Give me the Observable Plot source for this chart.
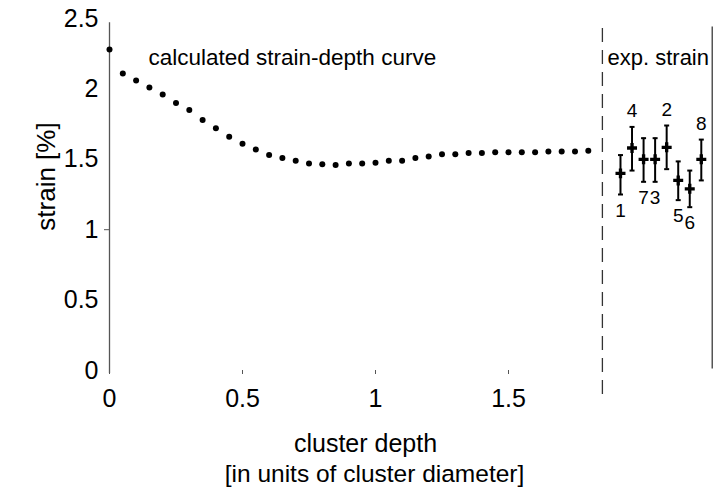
<!DOCTYPE html>
<html><head><meta charset="utf-8">
<script src="https://cdn.jsdelivr.net/npm/d3@7"></script>
<script src="https://cdn.jsdelivr.net/npm/@observablehq/plot@0.6"></script>
<style>
html,body{margin:0;padding:0;background:#fff;}
#chart svg{display:block;}
</style></head><body><div id="chart"></div>
<script>
// calculated strain-depth curve
const depth = [0,0.05,0.10,0.15,0.20,0.25,0.30,0.35,0.40,0.45,0.50,0.55,0.60,0.65,0.70,0.75,0.80,0.85,0.90,0.95,1.00,1.05,1.10,1.15,1.20,1.25,1.30,1.35,1.40,1.45,1.50,1.55,1.60,1.65,1.70,1.75,1.80];
const calcStrain = [2.28,2.11,2.06,2.01,1.96,1.90,1.85,1.78,1.72,1.66,1.61,1.57,1.53,1.51,1.49,1.47,1.465,1.46,1.47,1.47,1.475,1.49,1.49,1.51,1.52,1.535,1.535,1.545,1.545,1.55,1.55,1.55,1.55,1.555,1.555,1.555,1.56];
// experimental strain (samples in plotted order)
const sampleLabels = ["1","4","7","3","2","5","6","8"];
const sampleStrain = [1.40,1.58,1.50,1.50,1.585,1.35,1.29,1.50];
const sampleLow    = [1.25,1.42,1.34,1.34,1.43,1.21,1.16,1.35];
const sampleHigh   = [1.53,1.73,1.65,1.65,1.74,1.485,1.42,1.64];
const labelSide    = ["below","above","below","below","above","below","below","above"];
const xTicks = [0,0.5,1,1.5];
const yTicks = [0,0.5,1,1.5,2,2.5];

const W = 713, H = 491;
const mL = 109, mR = 1, mT = 18, mB = 121;
const xMax = (W - mR - mL) / 266;      // extent of the horizontal scale
const sepX = 1.853;                     // dashed separator
const expStart = 1.921, expStep = 0.0434;

const curve = depth.map((d, i) => ({depth: d, strain: calcStrain[i]}));
const samples = sampleLabels.map((s, i) => ({
  label: s, pos: expStart + i * expStep,
  strain: sampleStrain[i], low: sampleLow[i], high: sampleHigh[i], side: labelSide[i]
}));

const capSymbol = {draw(ctx, size) { const w = 2.5; ctx.moveTo(-w, 0); ctx.lineTo(w, 0); }};

const font = "'Liberation Sans', Arial, Helvetica, sans-serif";

const chart = Plot.plot({
  width: W, height: H,
  marginLeft: mL, marginRight: mR, marginTop: mT, marginBottom: mB,
  x: {domain: [0, xMax]},
  y: {domain: [0, 2.5]},
  style: {fontFamily: font, color: "#000", background: "#fff", overflow: "visible"},
  marks: [
    // axes
    Plot.ruleX([0], {y1: -0.022, y2: 2.47, stroke: "#555", strokeWidth: 1.3}),
    Plot.ruleX([sepX], {y1: -0.17, y2: 2.47, stroke: "#333", strokeWidth: 1.3, strokeDasharray: "14,8"}),
    Plot.ruleX([xMax], {y1: 0.01, y2: 2.44, stroke: "#555", strokeWidth: 2}),
    Plot.axisX({ticks: xTicks, tickSize: 4, tickPadding: 15, fontSize: 25, label: null, stroke: "#555", tickFormat: d => String(d)}),
    Plot.axisY({ticks: yTicks, tickSize: 0, tickPadding: 11, fontSize: 25, label: null, tickFormat: d => String(d)}),
    Plot.axisY({ticks: [1], tickSize: 5, label: null, stroke: "#555", tickFormat: () => ""}),
    // calculated curve
    Plot.dot(curve, {x: "depth", y: "strain", r: 3, fill: "#000", stroke: "none"}),
    // experimental strain
    Plot.ruleX(samples, {x: "pos", y1: "low", y2: "high", stroke: "#000", strokeWidth: 2}),
    Plot.dot(samples, {x: "pos", y: "low", symbol: capSymbol, r: 2, stroke: "#000", strokeWidth: 2}),
    Plot.dot(samples, {x: "pos", y: "high", symbol: capSymbol, r: 2, stroke: "#000", strokeWidth: 2}),
    Plot.dot(samples, {x: "pos", y: "strain", symbol: "cross", r: 4.2, fill: "#000", stroke: "none"}),
    Plot.text(samples.filter(d => d.side === "above"), {x: "pos", y: "high", text: "label", dy: -16, fontSize: 19, fill: "#000"}),
    Plot.text(samples.filter(d => d.side === "below"), {x: "pos", y: "low", text: "label", dy: 16, fontSize: 19, fill: "#000"}),
    // annotations
    Plot.text(["calculated strain-depth curve"], {frameAnchor: "top-left", dx: 39, dy: 31, text: d => d, textAnchor: "start", fontSize: 22.5, fill: "#000"}),
    Plot.text(["exp. strain"], {frameAnchor: "top-left", dx: 498, dy: 31, text: d => d, textAnchor: "start", fontSize: 22, fill: "#000"}),
    Plot.text(["strain [%]"], {frameAnchor: "top-left", dx: -73, dy: 158, rotate: -90, textAnchor: "middle", text: d => d, fontSize: 26, fill: "#000"}),
    Plot.text(["cluster depth"], {frameAnchor: "top-left", dx: 256, dy: 416, textAnchor: "middle", text: d => d, fontSize: 25, fill: "#000"}),
    Plot.text(["[in units of cluster diameter]"], {frameAnchor: "top-left", dx: 265, dy: 446, textAnchor: "middle", text: d => d, fontSize: 24.5, fill: "#000"})
  ]
});
document.getElementById("chart").appendChild(chart);
</script>
</body></html>
